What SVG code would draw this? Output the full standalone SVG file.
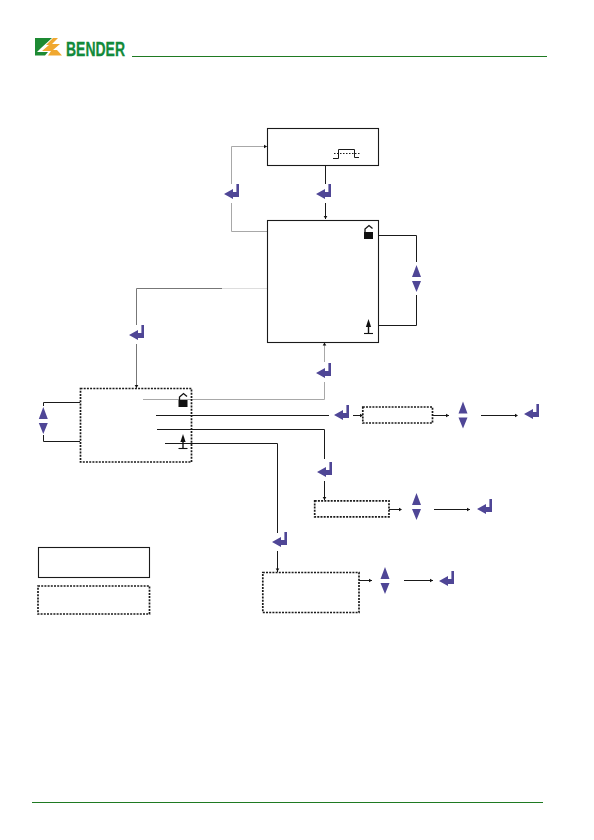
<svg xmlns="http://www.w3.org/2000/svg" width="594" height="840" viewBox="0 0 594 840">
<style>
.box{fill:#fff;stroke:#1a1a1a;stroke-width:1.1}
.dot{fill:#fff;stroke:#1a1a1a;stroke-width:1.7;stroke-dasharray:2 1.2}
.ln{fill:none;stroke:#1a1a1a;stroke-width:1}
.gr{fill:none;stroke:#a8a8a8;stroke-width:1}
.mg{fill:none;stroke:#777;stroke-width:1}
.sym{fill:#4f4696}
.blk{fill:#111}
.rule{stroke:#1f7a22;stroke-width:1;fill:none}
</style>
<defs>
<path id="enter" class="sym" d="M0,0 L9,-5 V-2 H12.4 V-10 H15 V3 H9 V5 Z"/>
<path id="updown" class="sym" d="M-4.5,-2 L0,-14 L4.5,-2 Z M-4.5,2 H4.5 L0,13 Z"/>
<path id="tip" class="blk" d="M0,0 L-3,-1.8 V1.8 Z"/>
<g id="lock"><rect class="blk" x="-4.5" y="0" width="9" height="7"/><path fill="none" stroke="#111" stroke-width="1.3" d="M-3.5,0 V-3 L0.5,-6.5 L4,-3.5"/></g>
<g id="gnd"><path class="blk" d="M0,-15 L2.6,-7 H-2.6 Z"/><path fill="none" stroke="#111" stroke-width="1.4" d="M0,-8 V-1"/><path fill="none" stroke="#111" stroke-width="1.1" d="M-4.5,-0.5 H4.5"/></g>
</defs>

<g id="header">
<path fill="#1d8a33" d="M35,38 H52 L41,48 L37,52 H48 L45,55.5 H35 Z"/>
<path fill="#f0a830" d="M53,38 H58 L52,44 H60 L53,50 H57 L62,55.5 H48 L51,51 H42 L49,45 H46 Z"/>
<text x="66" y="55.5" font-family="'Liberation Sans',sans-serif" font-weight="700" font-size="21" fill="#128a3a" stroke="#128a3a" stroke-width=".3" textLength="59" lengthAdjust="spacingAndGlyphs">BENDER</text>
<path class="rule" d="M132,56.5 H547"/>
<path class="rule" stroke-width="1.2" d="M32,802.5 H543"/>
</g>

<g id="connectors">
<path class="gr" d="M268,146.5 H231.5 V184 M231.5,203 V231.5 H270"/>
<path class="ln" d="M325.5,165 V184 M325.5,203 V219"/>
<path class="ln" d="M378,235.5 H416.5 V262 M416.5,295 V325.5 H378"/>
<path style="fill:none;stroke:#ddd;stroke-width:1" d="M272,288.5 H222"/>
<path class="mg" d="M222,288.5 H136.5 V325 M136.5,344 V388"/>
<path class="gr" d="M143,399.5 H324.5 V382 M324.5,362 V344"/>
<path class="ln" d="M80,402.5 H43.5 V406 M43.5,435 V441.5 H80"/>
<path class="ln" d="M156,415.5 H329 M353,415.5 H362 M432,415.5 H449 M481,415.5 H517"/>
<path class="ln" d="M157,429.5 H324.5 V459 M324.5,481 V500"/>
<path class="ln" d="M389,509.5 H401 M434,509.5 H470"/>
<path class="ln" d="M165,443.5 H277.5 V533 M277.5,551 V572"/>
<path class="ln" d="M359,580.5 H372 M404,580.5 H433"/>
<use href="#tip" transform="translate(267,146.5)"/>
<use href="#tip" transform="translate(325.5,219) rotate(90)"/>
<use href="#tip" transform="translate(136.5,388) rotate(90)"/>
<use href="#tip" transform="translate(324.5,342.5) rotate(-90)"/>
<use href="#tip" transform="translate(363,415.5)"/>
<use href="#tip" transform="translate(449,415.5)"/>
<use href="#tip" transform="translate(518,415.5)"/>
<use href="#tip" transform="translate(324.5,500)  rotate(90)"/>
<use href="#tip" transform="translate(402,509.5)"/>
<use href="#tip" transform="translate(470,509.5)"/>
<use href="#tip" transform="translate(277.5,571.5) rotate(90)"/>
<use href="#tip" transform="translate(372,580.5)"/>
<use href="#tip" transform="translate(433,580.5)"/>
</g>

<g id="node-top">
<rect class="box" x="267.5" y="128.5" width="111" height="37"/>
<path class="ln" d="M333,158.5 H338.5 V149.5 H354.5 V157.5 H359"/>
<path class="ln" stroke-dasharray="1.5 1.5" d="M334,153.5 H360"/>
</g>
<g id="node-main">
<rect class="box" x="267.5" y="220.5" width="111" height="122"/>
<use href="#lock" transform="translate(368.5,232)"/>
<use href="#gnd" transform="translate(368.5,334)"/>
</g>
<g id="node-menu">
<rect class="dot" style="fill:none" x="80.5" y="388.5" width="111" height="73.5"/>
<use href="#lock" transform="translate(183,400)"/>
<use href="#gnd" transform="translate(183,449)"/>
</g>
<g id="node-a"><rect class="dot" x="362.8" y="407" width="69.7" height="16"/></g>
<g id="node-b"><rect class="dot" x="314.7" y="500.8" width="74.3" height="16"/></g>
<g id="node-c"><rect class="dot" x="262.8" y="572.5" width="96.2" height="40"/></g>
<g id="legend-solid"><rect class="box" x="38.5" y="547.5" width="111" height="30"/></g>
<g id="legend-dotted"><rect class="dot" x="38" y="586" width="111.5" height="28"/></g>

<g id="enter-keys">
<use href="#enter" transform="translate(224,194)"/>
<use href="#enter" transform="translate(316,194)"/>
<use href="#enter" transform="translate(129,335)"/>
<use href="#enter" transform="translate(316,373)"/>
<use href="#enter" transform="translate(334,415)"/>
<use href="#enter" transform="translate(524,414)"/>
<use href="#enter" transform="translate(317,472)"/>
<use href="#enter" transform="translate(477,509)"/>
<use href="#enter" transform="translate(272,542)"/>
<use href="#enter" transform="translate(439,581)"/>
</g>
<g id="updown-keys">
<use href="#updown" transform="translate(416.5,279)"/>
<use href="#updown" transform="translate(43.3,421)"/>
<use href="#updown" transform="translate(463,415.5)"/>
<use href="#updown" transform="translate(416.5,507)"/>
<use href="#updown" transform="translate(385,581)"/>
</g>
</svg>
